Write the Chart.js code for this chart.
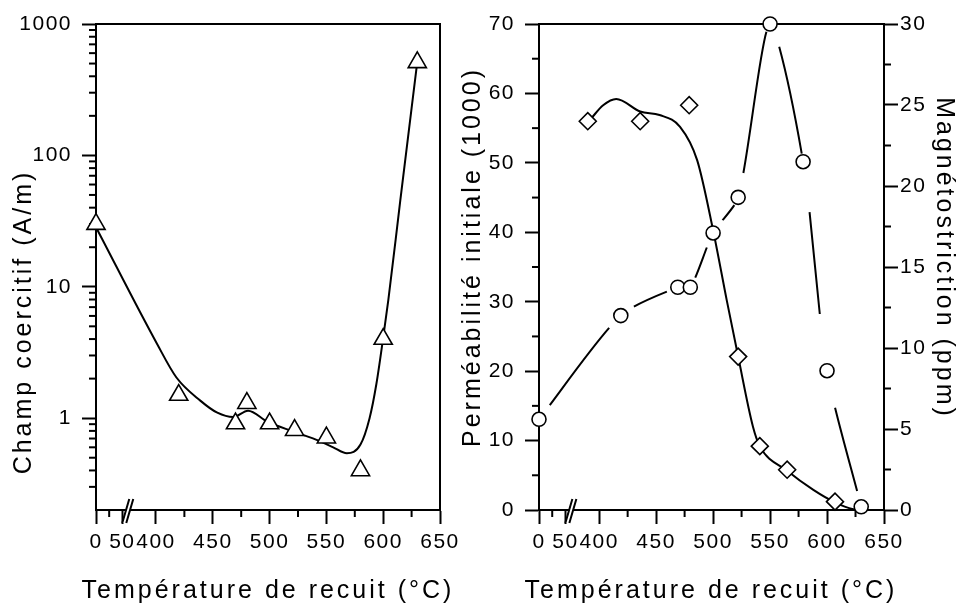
<!DOCTYPE html>
<html>
<head>
<meta charset="utf-8">
<script src="https://cdn.jsdelivr.net/npm/chart.js@4.4.0/dist/chart.umd.min.js"></script>
<style>
  html, body { margin: 0; padding: 0; background: #fff; }
  #wrap { position: relative; width: 959px; height: 608px; }
  canvas { position: absolute; left: 0; top: 0; }
</style>
</head>
<body>
<div id="wrap">
  <canvas id="left" width="959" height="608"></canvas>
  <canvas id="right" width="959" height="608"></canvas>
</div>
<script>
// ** DATA: ** //

// temperature axis, broken between 50 and 400
var tempTicks = [0, 50, 400, 450, 500, 550, 600, 650];
var tempTickLabels = ['0', '50', '400', '450', '500', '550', '600', '650'];
var tempMinor = [25, 425, 475, 525, 575, 625];

// left panel: champ coercitif (A/m)
var hcTemp = [0, 420, 470, 480, 500, 522, 550, 580, 600, 630];
var hcValue = [30, 1.5, 0.91, 1.3, 0.91, 0.81, 0.71, 0.40, 4.0, 510];
var hcFitTemp = [0, 401, 418, 439, 454, 468, 481, 498, 521, 544, 556, 568, 580, 588, 594, 600, 604.5, 615, 630];
var hcFitValue = [28.4, 3.67, 2.04, 1.36, 1.10, 1.02, 1.14, 0.94, 0.79, 0.67, 0.60, 0.54, 0.63, 1.0, 1.82, 4.1, 7.9, 45, 515];
var hcTicks = [1, 10, 100, 1000];

// right panel: permeabilite initiale (x1000), left axis
var muTemp = [390, 436, 479, 522, 541, 565, 607];
var muValue = [56, 56, 58.3, 22.1, 9.2, 5.8, 1.2];
var muFitTemp = [393, 403.5, 415, 436, 453, 471, 486, 500, 512, 522, 535, 541, 565, 588, 607, 623, 628];
var muFitValue = [56.4, 58.3, 59.2, 57.4, 56.9, 55.2, 50.4, 40.3, 30.2, 22.1, 12.0, 9.2, 5.66, 2.9, 1.1, 0.1, 0];

// right panel: magnetostriction (ppm), right axis
var lambdaTemp = [0, 419, 469, 480, 500, 522, 550, 579, 600, 630];
var lambdaValue = [5.6, 12.0, 13.75, 13.75, 17.1, 19.3, 30.0, 21.5, 8.6, 0.2];

// ** FUNCTIONS: ** //

var BREAK_U = 28.4;
function toU(t) {
	// compress 0..50 and shift 400..650 next to it
	return t <= 50 ? t * 0.464 : 52.8 + (t - 400);
}

function points(xs, ys) {
	var pts = [];
	for (var i = 0; i < xs.length; i++) {
		pts.push({x: toU(xs[i]), y: ys[i]});
	}
	return pts;
}

function logMinor() {
	var m = [];
	[0.1, 1, 10, 100].forEach(function(d) {
		for (var k = 2; k <= 9; k++) {
			if (d * k >= 0.3) m.push(d * k);
		}
	});
	return m;
}

function drawMinor(ctx, scale, values, len) {
	values.forEach(function(v) {
		var p = scale.getPixelForValue(v);
		ctx.beginPath();
		if (scale.isHorizontal()) {
			ctx.moveTo(p, scale.top); ctx.lineTo(p, scale.top + len);
		} else if (scale.position === 'left') {
			ctx.moveTo(scale.right, p); ctx.lineTo(scale.right - len, p);
		} else {
			ctx.moveTo(scale.left, p); ctx.lineTo(scale.left + len, p);
		}
		ctx.stroke();
	});
}

function drawTitle(ctx, text, x, y, rot) {
	ctx.save();
	ctx.translate(x, y);
	ctx.rotate(rot);
	ctx.font = '25px "Liberation Sans", Arial, sans-serif';
	ctx.letterSpacing = '3px';
	ctx.fillStyle = '#000';
	ctx.textAlign = 'center';
	ctx.textBaseline = 'alphabetic';
	ctx.fillText(text, 0, 0);
	ctx.restore();
}

function decor(minors, titles) {
	return {
		id: 'decor',
		beforeDraw: function(chart) {
			chart.ctx.letterSpacing = '1.5px';
		},
		beforeDatasetsDraw: function(chart) {
			var ctx = chart.ctx, a = chart.chartArea;
			ctx.save();
			ctx.strokeStyle = '#000';
			ctx.lineWidth = 2;
			ctx.strokeRect(a.left, a.top, a.right - a.left, a.bottom - a.top);
			minors.forEach(function(m) {
				drawMinor(ctx, chart.scales[m.axis], m.values, 7);
			});
			// axis break "//"
			var px = chart.scales.x.getPixelForValue(BREAK_U), by = a.bottom;
			ctx.fillStyle = '#fff';
			ctx.beginPath();
			ctx.moveTo(px - 6, by + 13); ctx.lineTo(px + 1, by - 11);
			ctx.lineTo(px + 5, by - 11); ctx.lineTo(px - 2, by + 13);
			ctx.closePath();
			ctx.fill();
			ctx.beginPath();
			ctx.moveTo(px - 6, by + 13); ctx.lineTo(px + 1, by - 11);
			ctx.moveTo(px - 2, by + 13); ctx.lineTo(px + 5, by - 11);
			ctx.stroke();
			ctx.restore();
		},
		afterDraw: function(chart) {
			titles.forEach(function(t) {
				drawTitle(chart.ctx, t.text, t.x, t.y, t.rot);
			});
		}
	};
}

function tempAxis() {
	return {
		type: 'linear',
		min: 0,
		max: toU(650),
		afterFit: function(s) { s.height = 98; },
		afterBuildTicks: function(s) {
			s.ticks = tempTicks.map(function(t) { return {value: toU(t)}; });
		},
		ticks: {
			autoSkip: false, maxRotation: 0, minRotation: 0, padding: 6,
			callback: function(v, i) { return tempTickLabels[i]; }
		},
		grid: {drawOnChartArea: false, tickLength: 14, tickWidth: 2, tickColor: '#000'},
		border: {color: '#000', width: 2}
	};
}

Chart.defaults.font.family = '"Liberation Sans", Arial, sans-serif';
Chart.defaults.font.size = 21;
Chart.defaults.color = '#000';

var markerBase = {showLine: false, backgroundColor: '#fff', borderColor: '#000', pointBorderWidth: 1.6, clip: false, order: 0};
var lineBase = {pointRadius: 0, borderColor: '#000', borderWidth: 2, fill: false, clip: false, order: 1};

// ** LEFT PANEL: ** //

new Chart(document.getElementById('left'), {
	type: 'line',
	data: {
		datasets: [
			Object.assign({data: points(hcTemp, hcValue), pointStyle: 'triangle', pointRadius: 10.5}, markerBase),
			Object.assign({data: points(hcFitTemp, hcFitValue), cubicInterpolationMode: 'monotone'}, lineBase)
		]
	},
	options: {
		responsive: false, animation: false, devicePixelRatio: 1,
		layout: {padding: {left: 0, top: 24, right: 519, bottom: 0}},
		plugins: {legend: {display: false}, tooltip: {enabled: false}},
		scales: {
			x: tempAxis(),
			y: {
				type: 'logarithmic', min: 0.2, max: 1000,
				afterFit: function(s) { s.width = 96; },
				afterBuildTicks: function(s) {
					s.ticks = hcTicks.map(function(v) { return {value: v}; });
				},
				ticks: {padding: 10, callback: function(v) { return String(v); }},
				grid: {drawOnChartArea: false, tickLength: 14, tickWidth: 2, tickColor: '#000'},
				border: {color: '#000', width: 2}
			}
		}
	},
	plugins: [decor(
		[{axis: 'x', values: tempMinor.map(toU)}, {axis: 'y', values: logMinor()}],
		[{text: 'Température de recuit (°C)', x: 268, y: 598, rot: 0},
		 {text: 'Champ coercitif (A/m)', x: 31, y: 322, rot: -Math.PI / 2}]
	)]
});

// ** RIGHT PANEL: ** //

var dashLen = [97, 36, 0, 32, 19, 143, 109, 102, 86];
var dashGap = [18, 16, 0, 11, 16, 25, 25, 51, 38];

new Chart(document.getElementById('right'), {
	type: 'line',
	data: {
		datasets: [
			Object.assign({data: points(muTemp, muValue), pointStyle: 'rectRot', pointRadius: 8.5, yAxisID: 'y'}, markerBase),
			Object.assign({data: points(lambdaTemp, lambdaValue), pointStyle: 'circle', pointRadius: 7, yAxisID: 'y2'}, markerBase),
			Object.assign({data: points(muFitTemp, muFitValue), cubicInterpolationMode: 'monotone', yAxisID: 'y'}, lineBase),
			Object.assign({
				data: points(lambdaTemp, lambdaValue), tension: 0.25, yAxisID: 'y2',
				segment: {
					borderDash: function(c) { return [dashLen[c.p0DataIndex], 1000]; },
					borderDashOffset: function(c) { return dashLen[c.p0DataIndex] + 1000 - dashGap[c.p0DataIndex]; }
				}
			}, lineBase)
		]
	},
	options: {
		responsive: false, animation: false, devicePixelRatio: 1,
		layout: {padding: {left: 440, top: 24, right: 0, bottom: 0}},
		plugins: {legend: {display: false}, tooltip: {enabled: false}},
		scales: {
			x: tempAxis(),
			y: {
				type: 'linear', position: 'left', min: 0, max: 70,
				afterFit: function(s) { s.width = 99; },
				ticks: {stepSize: 10, padding: 10},
				grid: {drawOnChartArea: false, tickLength: 14, tickWidth: 2, tickColor: '#000'},
				border: {color: '#000', width: 2}
			},
			y2: {
				type: 'linear', position: 'right', min: 0, max: 30,
				afterFit: function(s) { s.width = 75; },
				ticks: {stepSize: 5, padding: 2},
				grid: {drawOnChartArea: false, tickLength: 14, tickWidth: 2, tickColor: '#000'},
				border: {color: '#000', width: 2}
			}
		}
	},
	plugins: [decor(
		[{axis: 'x', values: tempMinor.map(toU)},
		 {axis: 'y', values: [5, 15, 25, 35, 45, 55, 65]},
		 {axis: 'y2', values: [2.5, 7.5, 12.5, 17.5, 22.5, 27.5]}],
		[{text: 'Température de recuit (°C)', x: 711, y: 598, rot: 0},
		 {text: 'Perméabilité initiale (1000)', x: 480, y: 257, rot: -Math.PI / 2},
		 {text: 'Magnétostriction (ppm)', x: 937, y: 258, rot: Math.PI / 2}]
	)]
});
</script>
</body>
</html>
